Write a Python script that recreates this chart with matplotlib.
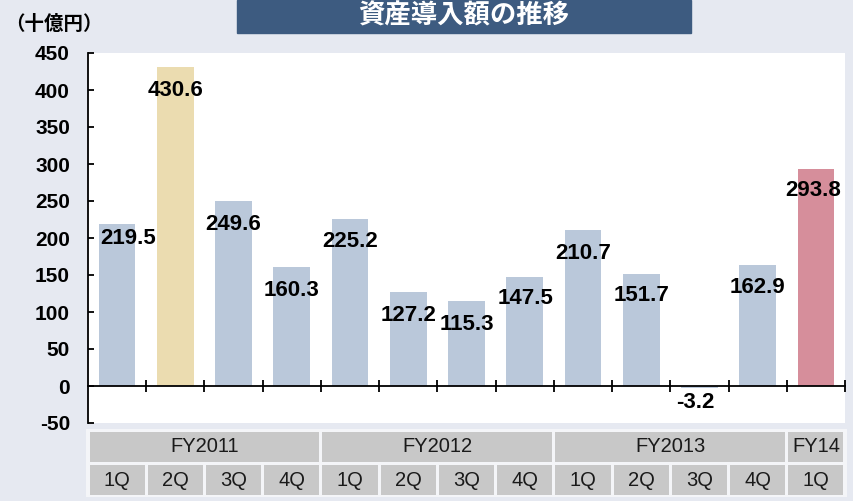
import matplotlib.pyplot as plt
from matplotlib.patches import Rectangle
import numpy as np

# ---------------------------------------------------------------------------
# Data
# ---------------------------------------------------------------------------
quarters = ["1Q", "2Q", "3Q", "4Q", "1Q", "2Q", "3Q", "4Q",
            "1Q", "2Q", "3Q", "4Q", "1Q"]
fiscal_years = ["FY2011", "FY2012", "FY2013", "FY14"]
fy_sizes = [4, 4, 4, 1]
values = [219.5, 430.6, 249.6, 160.3, 225.2, 127.2, 115.3, 147.5,
          210.7, 151.7, -3.2, 162.9, 293.8]
yticks = list(range(-50, 451, 50))

title = "資産導入額の推移"
unit_label = "（十億円）"

# ---------------------------------------------------------------------------
# Style
# ---------------------------------------------------------------------------
BG = "#e6e9f1"
BLUE = "#bac8da"
TAN = "#ebdcb0"
PINK = "#d68e9b"
bar_colors = [BLUE, TAN] + [BLUE] * 10 + [PINK]
# label offsets (pixels) relative to bar top
label_dx = [11, 0, 0, 0, 0, 0, 0, 1, 0, 0, -4, 0, -3]
label_dy = [-15, -23, -23, -23, -22, -24, -24, -22, -23, -22, -14, -22, -22]

W, H = 854, 501
LATIN = ["Liberation Sans", "DejaVu Sans"]
CJK = ["Noto Sans CJK JP", "DejaVu Sans"]

fig = plt.figure(figsize=(W / 100, H / 100), dpi=100)
fig.patch.set_facecolor(BG)

left, right, top, bottom = 88, 845, 53, 423
ax = fig.add_axes([left / W, 1 - bottom / H, (right - left) / W, (bottom - top) / H])
ax.set_facecolor("white")

n = len(values)
x = np.arange(n)
ax.bar(x, values, width=0.63, color=bar_colors, edgecolor="none", zorder=2)

for i, v in enumerate(values):
    ax.annotate(f"{v:.1f}", xy=(i, v), xytext=(label_dx[i], label_dy[i]),
                textcoords="offset pixels", ha="center", va="center",
                fontsize=16, fontweight="bold", family=LATIN, color="black",
                zorder=4)

ax.set_xlim(-0.5, n - 0.5)
ax.set_ylim(-50, 450)
ax.set_yticks(yticks)
ax.set_yticklabels([str(t) for t in yticks], fontsize=15, fontweight="bold",
                   family=LATIN)
ax.tick_params(axis="y", direction="in", length=4.5, width=1.3, pad=13)

ax.set_xticks(np.arange(1, n + 1) - 0.5)
ax.set_xticklabels([])
ax.tick_params(axis="x", direction="inout", length=9, width=1.3)

ax.spines["top"].set_visible(False)
ax.spines["right"].set_visible(False)
ax.spines["bottom"].set_position(("data", 0))
ax.spines["bottom"].set_linewidth(1.3)
ax.spines["left"].set_linewidth(1.3)
ax.spines["bottom"].set_zorder(3)

# ---------------------------------------------------------------------------
# Category table under the plot
# ---------------------------------------------------------------------------
unit = (right - left) / n  # pixels per category
pad = 2 / unit
tax = fig.add_axes([(left - 2) / W, 1 - 497 / H, (right - left + 4) / W, 68 / H])
tax.set_xlim(-0.5 - pad, n - 0.5 + pad)
tax.set_ylim(0, 68)
tax.axis("off")
tax.add_patch(Rectangle((-0.5 - pad, 0), n + 2 * pad, 68, color="#f4f5f8",
                        zorder=0))

gap = 1.5 / unit
cell = "#c8c8c8"
for i, q in enumerate(quarters):
    x0 = i - 0.5 + gap
    tax.add_patch(Rectangle((x0, 2), 1 - 2 * gap, 30, color=cell, lw=0))
    tax.text(i, 17, q, ha="center", va="center", fontsize=14.5,
             family=LATIN, color="#1a1a1a")

start = 0
for fy, size in zip(fiscal_years, fy_sizes):
    x0 = start - 0.5 + gap
    tax.add_patch(Rectangle((x0, 35), size - 2 * gap, 30, color=cell, lw=0))
    tax.text(start - 0.5 + size / 2, 50, fy, ha="center", va="center",
             fontsize=14.5, family=LATIN, color="#1a1a1a")
    start += size

# ---------------------------------------------------------------------------
# Title box and unit label
# ---------------------------------------------------------------------------
fig.patches.append(Rectangle((237 / W, 1 - 33 / H), (691 - 237) / W, 33 / H,
                             transform=fig.transFigure, color="#3d5b80",
                             zorder=0))
fig.text(464 / W, 1 - 16 / H, title, ha="center", va="center", fontsize=19,
         fontweight="bold", family=CJK, color="white")
fig.text(5 / W, 1 - 24 / H, unit_label, ha="left", va="center", fontsize=14,
         fontweight="bold", family=CJK, color="black")

fig.savefig("out.png", dpi=100, facecolor=BG)
